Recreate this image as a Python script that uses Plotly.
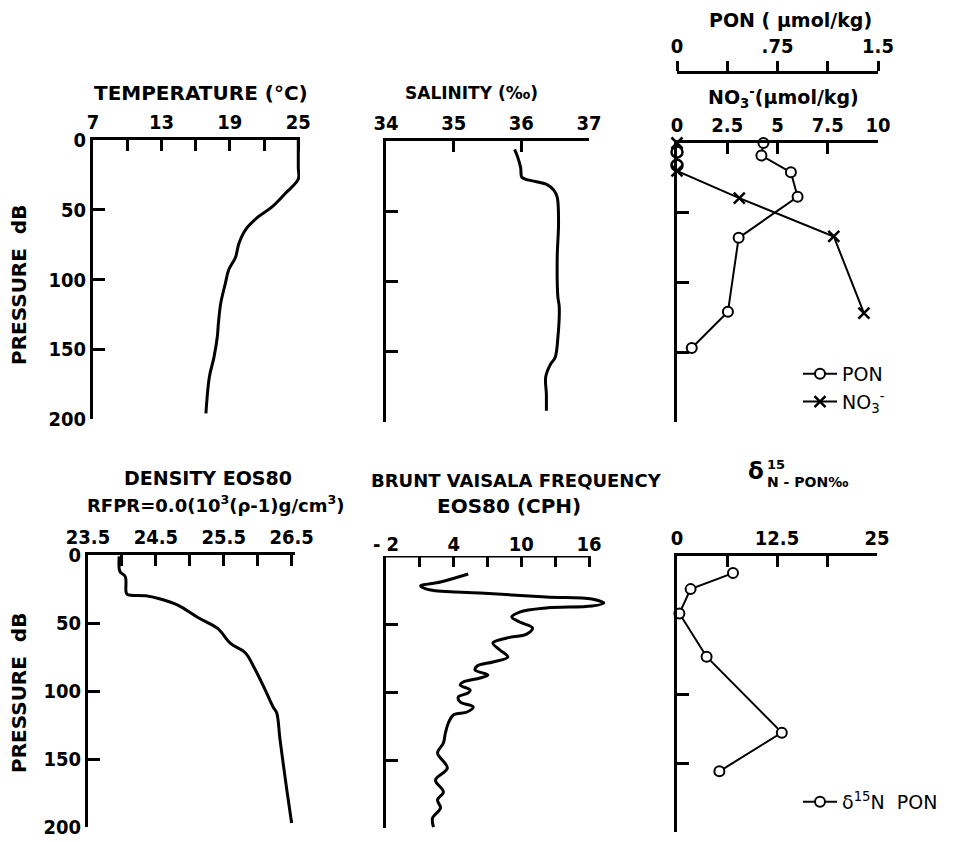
import plotly.graph_objects as go

# ---------------- data ----------------
temp_p = [0, 10, 20, 28, 38, 48, 55, 64, 74, 84, 93, 103, 117, 131, 141, 156, 170, 196]
temp_t = [25.0, 25.0, 25.0, 25.0, 23.9, 22.7, 21.5, 20.4, 19.8, 19.5, 18.9, 18.6, 18.2, 18.0, 17.9, 17.6, 17.2, 16.9]

sal_p = [6, 12, 19, 26, 28, 31, 35, 40, 58, 83, 111, 118, 140, 154, 159, 168, 180, 192]
sal_s = [35.90, 35.95, 35.99, 36.01, 36.13, 36.38, 36.48, 36.53, 36.55, 36.53, 36.54, 36.56, 36.54, 36.50, 36.43, 36.36, 36.37, 36.37]

pon_p = [0, 9, 21, 38.5, 68, 121, 147]
pon_v = [0.645, 0.63, 0.85, 0.90, 0.46, 0.38, 0.11]

no3_p = [0, 6.5, 16, 20, 39.5, 67, 122]
no3_v = [0, 0, 0, 0, 3.1, 7.8, 9.3]
no3_sym = ["x-thin", "circle", "circle", "x-thin", "x-thin", "x-thin", "x-thin"]

den_p = [1, 12, 16, 27, 29, 30, 32, 37, 46, 54, 65, 72, 82, 97, 112, 116, 136, 173, 197]
den_v = [23.96, 23.97, 24.05, 24.06, 24.08, 24.35, 24.54, 24.83, 25.12, 25.41, 25.6, 25.82, 25.94, 26.09, 26.23, 26.28, 26.33, 26.43, 26.5]

bv_p = [13.2, 19.1, 22.1, 25.0, 27.2, 30.1, 31.6, 34.6, 36.8, 38.2, 41.2, 44.9, 48.5, 52.9, 57.4, 60.3,
        64.0, 69.1, 74.3, 77.9, 80.9, 83.8, 87.5, 89.7, 92.6, 94.9, 98.5, 100.7, 103.7, 107.4, 111.0,
        114.7, 116.9, 122.8, 130.1, 137.5, 144.9, 155.9, 164.7, 173.5, 179.4, 185.3, 192.6, 199.3]
bv_n = [5.29, 2.83, 1.07, 1.95, 6.34, 12.22, 16.26, 17.32, 16.26, 12.22, 9.85, 9.15, 9.85, 10.99, 10.47, 8.71,
        7.48, 8.10, 8.80, 7.48, 6.08, 5.90, 7.04, 6.34, 4.85, 4.58, 5.46, 5.29, 4.41, 4.58, 5.73,
        5.20, 3.97, 3.53, 3.27, 3.09, 2.57, 3.44, 2.39, 3.09, 2.57, 2.83, 2.13, 2.21]

d15_p = [12.4, 24, 41.6, 73, 128, 156]
d15_v = [7.0, 1.7, 0.3, 3.7, 13.1, 5.3]

temp_ticks = [7, 10, 13, 16, 19, 22, 25]
temp_text = ["7", "", "13", "", "19", "", "25"]
sal_ticks = [34, 35, 36, 37]
sal_text = ["34", "35", "36", "37"]
no3_ticks = [0, 2.5, 5, 7.5, 10]
no3_text = ["0", "2.5", "5", "7.5", "10"]
pon_ticks = [0, 0.375, 0.75, 1.125, 1.5]
pon_text = ["0", "", ".75", "", "1.5"]
den_ticks = [23.5, 24, 24.5, 25, 25.5, 26, 26.5]
den_text = ["23.5", "", "24.5", "", "25.5", "", "26.5"]
bv_ticks = [-2, 1, 4, 7, 10, 13, 16]
bv_text = ["- 2", "", "4", "", "10", "", "16"]
d15_ticks = [0, 6.25, 12.5, 18.75, 25]
d15_text = ["0", "", "12.5", "", "25"]
p_ticks = [0, 50, 100, 150, 200]
p_text = ["0", "50", "100", "150", "200"]

# ---------------- layout helpers ----------------
W, H = 973, 842
def fx(px):
    return px / W
def fy(py):
    return 1 - py / H

TICKFONT = dict(family="DejaVu Sans Condensed, Liberation Sans Narrow, sans-serif",
                size=20, color="black", weight="bold")
def tfont(size):
    return dict(family="DejaVu Sans, sans-serif", size=size, color="black", weight="bold")

LW = 3
line_style = dict(color="black", width=3)
circ = dict(symbol="circle", size=10, color="white", line=dict(color="black", width=2))

fig = go.Figure()

fig.add_trace(go.Scatter(x=temp_t, y=temp_p, mode="lines", line=line_style, line_shape="spline",
                         xaxis="x", yaxis="y", showlegend=False))
fig.add_trace(go.Scatter(x=sal_s, y=sal_p, mode="lines", line=line_style, line_shape="spline",
                         xaxis="x2", yaxis="y2", showlegend=False))
fig.add_trace(go.Scatter(x=no3_v, y=no3_p, mode="lines+markers", name="NO<sub>3</sub><sup>-</sup>",
                         line=dict(color="black", width=2),
                         marker=dict(symbol=no3_sym, size=11, color="white",
                                     line=dict(color="black", width=2.5)),
                         cliponaxis=False, xaxis="x3", yaxis="y3", legend="legend"))
fig.add_trace(go.Scatter(x=pon_v, y=pon_p, mode="lines+markers", name="PON",
                         line=dict(color="black", width=2), marker=circ,
                         cliponaxis=False, xaxis="x7", yaxis="y3", legend="legend"))
fig.add_trace(go.Scatter(x=den_v, y=den_p, mode="lines", line=line_style, line_shape="spline",
                         xaxis="x4", yaxis="y4", showlegend=False))
fig.add_trace(go.Scatter(x=bv_n, y=bv_p, mode="lines", line=line_style, line_shape="spline",
                         xaxis="x5", yaxis="y5", showlegend=False))
fig.add_trace(go.Scatter(x=d15_v, y=d15_p, mode="lines+markers", name="δ<sup>15</sup>N  PON",
                         line=dict(color="black", width=2), marker=circ,
                         cliponaxis=False, xaxis="x6", yaxis="y6", legend="legend2"))

def xax(dom, rng, tv, tt, anchor):
    return dict(domain=[fx(dom[0]), fx(dom[1])], range=rng, side="top", anchor=anchor,
                showline=True, linewidth=LW, linecolor="black", mirror=False,
                ticks="inside", ticklen=11, tickwidth=2.5, tickcolor="black",
                tickvals=tv, ticktext=tt, tickfont=TICKFONT, showgrid=False, zeroline=False,
                fixedrange=True, automargin=False)

def yax(dom, anchor, labels):
    return dict(domain=[fy(dom[1]), fy(dom[0])], range=[200, 0], anchor=anchor,
                showline=True, linewidth=LW, linecolor="black", mirror=False,
                ticks="inside", ticklen=12, tickwidth=2.5, tickcolor="black",
                tickvals=p_ticks, ticktext=p_text, showticklabels=labels, tickfont=TICKFONT,
                showgrid=False, zeroline=False, fixedrange=True, automargin=False)

# BV axis: plot area extends past 16 so the peak is not clipped; axis line drawn only to 16
bv_px_per_unit = (589 - 386) / 18.0
bv_right = 386 + bv_px_per_unit * (17.8 + 2)

layout = dict(
    width=W, height=H, margin=dict(l=0, r=0, t=0, b=0, autoexpand=False),
    paper_bgcolor="white", plot_bgcolor="rgba(0,0,0,0)",
    xaxis=xax((93, 300), [7, 25.15], temp_ticks, temp_text, "y"),
    yaxis=yax((140, 419), "x", True),
    xaxis2=xax((386, 589), [34, 37], sal_ticks, sal_text, "y2"),
    yaxis2=yax((141, 422), "x2", False),
    xaxis3=xax((677, 878), [0, 10], no3_ticks, no3_text, "y3"),
    yaxis3=yax((143, 422), "x3", False),
    xaxis4=xax((88, 295), [23.5, 26.55], den_ticks, den_text, "y4"),
    yaxis4=yax((555, 827), "x4", True),
    xaxis5=xax((386, bv_right), [-2, 17.8], bv_ticks, bv_text, "y5"),
    yaxis5=yax((556, 828), "x5", False),
    xaxis6=xax((677, 877), [0, 25], d15_ticks, d15_text, "y6"),
    yaxis6=yax((556, 832), "x6", False),
)
layout["xaxis5"]["showline"] = False
pon_ax = xax((677, 877), [0, 1.5], pon_ticks, pon_text, "free")
pon_ax.update(overlaying="x3", position=fy(72), ticks="outside", ticklen=10)
layout["xaxis7"] = pon_ax
layout["yaxis6"]["tickvals"] = [0, 100, 150, 200]
layout["yaxis6"]["ticktext"] = ["0", "100", "150", "200"]

layout["legend"] = dict(x=fx(798), y=fy(355), xanchor="left", yanchor="top",
                        bgcolor="rgba(0,0,0,0)", traceorder="reversed",
                        font=dict(family="DejaVu Sans, sans-serif", size=19, color="black"),
                        itemwidth=34, tracegroupgap=0)
layout["legend2"] = dict(x=fx(798), y=fy(802), xanchor="left", yanchor="middle",
                         bgcolor="rgba(0,0,0,0)",
                         font=dict(family="DejaVu Sans, sans-serif", size=19, color="black"),
                         itemwidth=34)

fig.update_layout(**layout)

# top axis line of the BV panel, in its own axis units (ends at the 16 tick)
fig.add_shape(type="line", xref="x5", yref="y5", x0=bv_ticks[0], x1=bv_ticks[-1], y0=0, y1=0,
              line=dict(color="black", width=LW))

def ann(text, px, py, font, xanchor="center", angle=0):
    fig.add_annotation(text=text, x=fx(px), y=fy(py), xref="paper", yref="paper",
                       showarrow=False, xanchor=xanchor, yanchor="middle", font=font,
                       textangle=angle)

ann("TEMPERATURE (°C)", 201, 93, tfont(20))
ann("SALINITY (‰)", 471, 93, tfont(17))
ann("PON ( μmol/kg)", 790, 20, tfont(19))
ann("NO<sub>3</sub><sup>-</sup>(μmol/kg)", 783, 98, tfont(19))
ann("DENSITY EOS80", 208, 478, tfont(19))
ann("RFPR=0.0(10<sup>3</sup>(ρ-1)g/cm<sup>3</sup>)", 215, 504, tfont(18))
ann("BRUNT VAISALA FREQUENCY", 516, 480, tfont(18))
ann("EOS80 (CPH)", 509, 506, tfont(20))
ann("δ", 756, 471, tfont(23))
ann("15", 765, 465, tfont(13), xanchor="left")
ann("N - PON‰", 765, 482, tfont(14), xanchor="left")
ann("PRESSURE  dB", 19, 285, tfont(20), angle=-90)
ann("PRESSURE  dB", 19, 693, tfont(20), angle=-90)

fig.write_html("out.html", config={"displayModeBar": False},
               post_script="document.body.style.margin='0';document.body.style.overflow='hidden';")
